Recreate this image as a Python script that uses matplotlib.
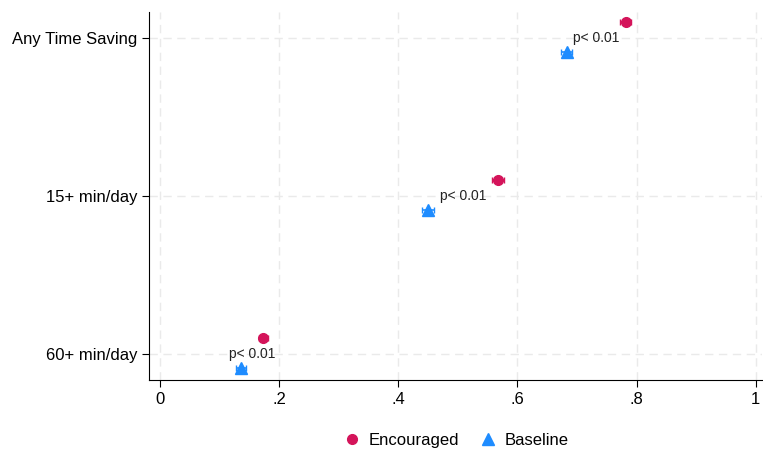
import matplotlib.pyplot as plt

plt.rcParams['font.family'] = ['Liberation Sans', 'DejaVu Sans']

categories = ['60+ min/day', '15+ min/day', 'Any Time Saving']
encouraged = [0.174, 0.567, 0.782]
encouraged_ci = [0.007, 0.010, 0.009]
baseline = [0.136, 0.450, 0.683]
baseline_ci = [0.008, 0.010, 0.009]
p_labels = ['p< 0.01', 'p< 0.01', 'p< 0.01']

red = '#D4145A'
blue = '#1E8CFF'

fig = plt.figure(figsize=(7.63, 4.53), dpi=100)
ax = fig.add_axes([0.1953, 0.161, 0.803, 0.8125])

ypos = list(range(len(categories)))
y_enc = [y + 0.10 for y in ypos]
y_base = [y - 0.09 for y in ypos]

ax.errorbar(encouraged, y_enc, xerr=encouraged_ci, fmt='o', color=red, ms=7,
            capsize=2.5, elinewidth=1.2, label='Encouraged', zorder=3)
ax.errorbar(baseline, y_base, xerr=baseline_ci, fmt='^', color=blue, ms=8,
            capsize=2.5, elinewidth=1.2, label='Baseline', zorder=3)

for i, lab in enumerate(p_labels):
    ax.text((encouraged[i] + baseline[i]) / 2, ypos[i], lab, ha='center', va='center',
            fontsize=10, color='#222222', zorder=4)

ax.set_xlim(-0.018, 1.01)
ax.set_ylim(-0.165, 2.165)
ax.set_xticks([0, 0.2, 0.4, 0.6, 0.8, 1])
ax.set_xticklabels(['0', '.2', '.4', '.6', '.8', '1'])
ax.set_yticks(ypos)
ax.set_yticklabels(categories)
ax.tick_params(labelsize=12, colors='black', length=5)
ax.grid(True, linestyle=(0, (6, 4)), color='#EAEAEA', linewidth=1)
ax.set_axisbelow(True)
for s in ['top', 'right']:
    ax.spines[s].set_visible(False)

handles, labels = ax.get_legend_handles_labels()
handles = [h[0] for h in handles]
fig.legend(handles, labels, loc='lower center', bbox_to_anchor=(0.597, -0.022), ncol=2,
           frameon=False, fontsize=12, handletextpad=0.4, columnspacing=1.1, handlelength=1.2)

fig.savefig('out.png', dpi=100)
